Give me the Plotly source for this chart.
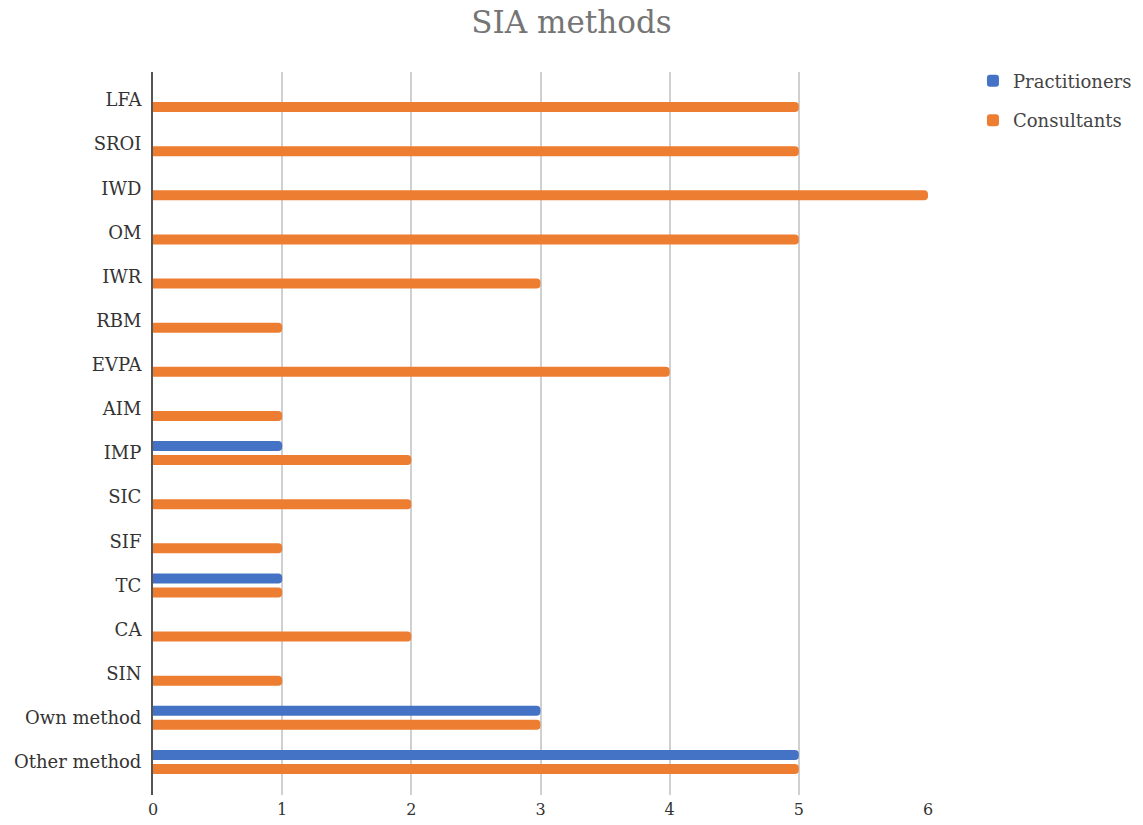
import plotly.graph_objects as go

methods = ["LFA", "SROI", "IWD", "OM", "IWR", "RBM", "EVPA", "AIM", "IMP",
           "SIC", "SIF", "TC", "CA", "SIN", "Own method", "Other method"]
practitioners = [0, 0, 0, 0, 0, 0, 0, 0, 1, 0, 0, 1, 0, 0, 3, 5]
consultants = [5, 5, 6, 5, 3, 1, 4, 1, 2, 2, 1, 1, 2, 1, 3, 5]
x_ticks = [0, 1, 2, 3, 4, 5, 6]

FONT = "DejaVu Serif"

fig = go.Figure()
fig.add_trace(go.Bar(
    y=methods, x=practitioners, orientation="h", name="Practitioners",
    marker=dict(color="#4472C4", line=dict(width=0)), legendgroup="p",
))
fig.add_trace(go.Bar(
    y=methods, x=consultants, orientation="h", name="Consultants",
    marker=dict(color="#ED7D31", line=dict(width=0)), legendgroup="c",
))

fig.update_layout(
    width=1143, height=825,
    paper_bgcolor="white", plot_bgcolor="white",
    font=dict(family=FONT, size=17, color="#333333"),
    title=dict(text="SIA methods", x=0.5, xanchor="center", y=0.973, yanchor="middle",
               font=dict(family=FONT, size=31, color="#757575")),
    margin=dict(l=153, r=215, t=72, b=30, autoexpand=False),
    barmode="group", bargap=0.364, bargroupgap=0.29, barcornerradius=4,
    showlegend=True,
    legend=dict(x=1.058, y=1.013, xanchor="left", yanchor="top",
                font=dict(family=FONT, size=18, color="#444444"),
                traceorder="grouped", tracegroupgap=13, itemwidth=30),
    xaxis=dict(range=[0, 6], tickvals=x_ticks, ticktext=[str(v) for v in x_ticks],
               showgrid=True, gridcolor="#d0d0d0", gridwidth=1.5, zeroline=False,
               showline=False, ticks="", ticklabelstandoff=3,
               tickfont=dict(family=FONT, size=16, color="#333333")),
    yaxis=dict(range=[15.749, -0.635], type="category", showgrid=False,
               showline=True, linecolor="#555555", linewidth=2,
               ticks="", ticklabelstandoff=6,
               tickfont=dict(family=FONT, size=18, color="#333333")),
)

fig.write_html("out.html")
